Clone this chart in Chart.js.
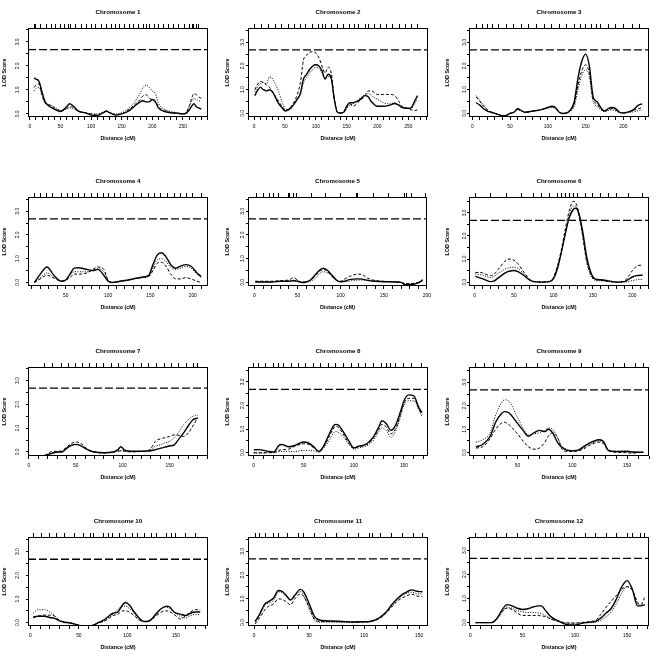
<!DOCTYPE html>
<html><head><meta charset="utf-8">
<script src="https://cdn.jsdelivr.net/npm/chart.js@4"></script>
<style>
html,body{margin:0;padding:0;background:#fff;}
#wrap{position:relative;width:656px;height:656px;overflow:hidden;background:#fff;}
#wrap canvas{position:absolute;}
</style></head><body><div id="wrap"></div>
<script>
// ---------------- data ----------------
const THRESHOLD = 2.68;
const titles = ['Chromosome 1','Chromosome 2','Chromosome 3','Chromosome 4','Chromosome 5','Chromosome 6',
                'Chromosome 7','Chromosome 8','Chromosome 9','Chromosome 10','Chromosome 11','Chromosome 12'];
const xRangeMin = [-3,-10,-4.4,5.5,-7.5,-7,-1,-5.7,5.7,-2.4,-5.5,-1.3];
const xRangeMax = [291,282,234,218,200,221,191,174,170,183,158,171];
const yRangeMin = [-0.13,-0.15,-0.15,-0.15,-0.15,-0.17,-0.17,-0.14,-0.14,-0.14,-0.14,-0.14];
const yRangeMax = [3.58,3.6,3.6,3.6,3.6,3.69,3.57,3.63,3.65,3.62,3.6,3.57];
const xTickStep = 10, xLabelStep = 50;
const yTickValues = [0,0.5,1,1.5,2,2.5,3,3.5];

const c1Pos  = [7,10,15,20,25,30,40,50,60,65,70,80,90,100,110,120,125,130,140,150,160,170,180,185,190,195,200,205,210,220,230,240,250,255,260,265,268,272,276,280];
const c1Solid= [1.5,1.45,1.35,0.9,0.5,0.35,0.2,0.1,0.3,0.42,0.35,0.1,0.05,-0.05,-0.07,0.05,0.12,0.05,-0.05,0.0,0.1,0.3,0.5,0.55,0.5,0.5,0.6,0.5,0.25,0.1,0.05,0.03,0.0,0.02,0.15,0.35,0.42,0.3,0.25,0.2];
const c1Dash = [1.1,1.2,1.25,0.8,0.45,0.4,0.25,0.12,0.22,0.3,0.28,0.1,0.05,0.0,-0.05,0.05,0.1,0.05,-0.03,0.0,0.15,0.35,0.6,0.75,0.8,0.65,0.6,0.55,0.3,0.15,0.05,0.03,0.0,0.05,0.3,0.7,0.85,0.8,0.7,0.65];
const c1Dot  = [0.95,1.05,1.1,0.75,0.45,0.4,0.3,0.15,0.2,0.25,0.22,0.12,0.05,0.0,0.0,0.08,0.1,0.05,0.0,0.05,0.2,0.45,0.85,1.1,1.2,1.1,0.95,0.85,0.45,0.2,0.1,0.05,0.0,0.05,0.3,0.55,0.65,0.6,0.55,0.5];
const c1Markers = [8,10,18,27,36,42,50,56,63,67,75,85,93,100,107,117,125,133,140,147,155,162,170,178,185,190,196,203,210,218,226,235,243,252,260,266,268,272,276];

const c2Pos  = [1,5,10,15,20,25,30,35,40,45,50,55,60,65,70,75,80,85,90,95,100,105,110,115,120,125,130,135,140,145,150,155,160,170,180,185,190,200,210,220,228,235,240,250,255,260,265];
const c2Solid= [0.75,0.95,1.1,1.0,0.95,1.0,0.9,0.65,0.4,0.25,0.1,0.15,0.25,0.4,0.6,0.85,1.45,1.65,1.85,2.0,2.05,2.0,1.8,1.45,1.65,1.5,0.6,0.05,0.02,0.05,0.3,0.45,0.45,0.55,0.75,0.7,0.5,0.3,0.3,0.35,0.42,0.35,0.25,0.22,0.25,0.5,0.75];
const c2Dash = [1.0,1.2,1.35,1.3,1.2,1.1,0.9,0.7,0.5,0.3,0.15,0.15,0.3,0.5,0.8,1.3,2.25,2.45,2.58,2.6,2.55,2.35,2.0,1.7,1.95,1.7,0.6,0.05,0.02,0.02,0.25,0.4,0.3,0.5,0.75,0.95,0.95,0.8,0.8,0.8,0.75,0.5,0.3,0.2,0.15,0.12,0.15];
const c2Dot  = [0.9,1.1,1.25,1.3,1.25,1.55,1.45,1.2,0.9,0.5,0.2,0.15,0.2,0.4,0.6,0.8,1.3,1.5,1.7,1.85,1.95,1.9,1.7,1.5,1.55,1.45,0.6,0.05,0.03,0.05,0.2,0.35,0.4,0.6,0.8,0.85,0.75,0.6,0.45,0.4,0.45,0.3,0.25,0.2,0.2,0.4,0.6];
const c2Markers = [1,12,23,34,44,55,65,75,84,95,105,111,115,125,135,145,155,163,170,180,185,195,205,215,225,235,245,255,265];

const c3Pos  = [5,10,15,20,25,30,35,40,45,50,55,60,65,70,80,90,100,105,110,115,120,125,130,135,140,145,150,155,160,165,170,175,180,185,190,195,200,205,210,215,220,225];
const c3Solid= [0.45,0.35,0.2,0.1,0.05,0.0,-0.05,-0.1,-0.08,0.0,0.05,0.2,0.12,0.05,0.1,0.15,0.25,0.3,0.25,0.05,0.0,0.02,0.15,0.5,1.5,2.2,2.5,2.0,0.7,0.5,0.25,0.1,0.2,0.25,0.2,0.05,0.02,0.05,0.1,0.2,0.35,0.4];
const c3Dash = [0.7,0.5,0.3,0.15,0.05,0.0,-0.05,-0.1,-0.08,0.0,0.05,0.18,0.1,0.05,0.1,0.15,0.25,0.28,0.22,0.05,0.0,0.02,0.12,0.4,1.2,1.8,2.05,1.7,0.6,0.4,0.2,0.1,0.15,0.2,0.15,0.05,0.02,0.05,0.1,0.15,0.2,0.25];
const c3Dot  = [0.75,0.55,0.35,0.15,0.05,0.0,-0.05,-0.1,-0.08,0.0,0.05,0.15,0.1,0.05,0.1,0.15,0.22,0.25,0.2,0.05,0.0,0.02,0.1,0.3,1.0,1.6,1.85,1.55,0.5,0.3,0.15,0.08,0.12,0.15,0.1,0.03,0.02,0.03,0.05,0.08,0.12,0.15];
const c3Markers = [5,13,20,27,35,45,55,65,75,85,95,105,115,125,135,143,150,158,165,170,180,190,200,212,222];

const c4Pos  = [13,20,28,35,45,50,55,60,65,75,82,88,95,100,105,110,120,130,140,148,153,158,163,168,175,180,185,192,198,205,210];
const c4Solid= [0.0,0.35,0.65,0.35,0.05,0.1,0.35,0.6,0.62,0.55,0.5,0.55,0.3,0.05,0.0,0.02,0.08,0.15,0.22,0.3,0.75,1.15,1.25,1.1,0.7,0.6,0.68,0.75,0.68,0.4,0.25];
const c4Dash = [0.0,0.15,0.3,0.2,0.05,0.1,0.2,0.35,0.35,0.4,0.55,0.65,0.55,0.1,0.0,0.02,0.08,0.15,0.22,0.25,0.5,0.8,0.85,0.7,0.3,0.15,0.15,0.2,0.15,0.05,0.0];
const c4Dot  = [0.0,0.2,0.4,0.25,0.05,0.1,0.3,0.45,0.45,0.45,0.5,0.58,0.45,0.1,0.0,0.02,0.08,0.15,0.2,0.25,0.6,0.95,1.0,0.9,0.6,0.55,0.6,0.68,0.6,0.35,0.2];
const c4Markers = [13,20,27,35,45,52,58,65,72,80,88,95,100,108,115,122,130,140,148,155,162,170,178,185,193,200,210];

const c5Pos  = [1,10,20,30,40,45,50,55,60,65,70,75,80,85,90,95,100,105,110,120,125,130,140,150,160,170,175,180,190,195];
const c5Solid= [0.02,0.02,0.02,0.05,0.05,0.08,0.05,0.0,0.02,0.1,0.3,0.5,0.6,0.5,0.3,0.1,0.03,0.05,0.12,0.15,0.14,0.1,0.05,0.03,0.03,0.0,-0.1,-0.1,-0.02,0.1];
const c5Dash = [0.05,0.05,0.05,0.08,0.1,0.2,0.1,0.0,0.03,0.1,0.25,0.45,0.55,0.45,0.25,0.1,0.05,0.15,0.25,0.35,0.33,0.2,0.08,0.05,0.03,0.0,-0.05,-0.05,0.0,0.12];
const c5Dot  = [0.03,0.03,0.03,0.04,0.05,0.05,0.05,0.02,0.02,0.05,0.15,0.35,0.45,0.4,0.25,0.1,0.03,0.04,0.05,0.1,0.1,0.08,0.05,0.03,0.02,0.0,-0.05,-0.05,0.0,0.05];
const c5Markers = [2,10,17,22,28,39,41,45,49,66,82,100,118,120,138,156,174,176,182,198];

const c6Pos  = [1,10,20,25,30,40,45,50,55,60,70,75,85,95,100,105,110,115,120,125,128,132,137,142,147,152,160,170,180,190,195,200,205,213];
const c6Solid= [0.25,0.15,0.02,0.05,0.18,0.42,0.48,0.5,0.45,0.35,0.08,0.02,0.0,0.02,0.15,0.6,1.3,2.1,2.8,3.15,3.2,3.0,2.2,1.1,0.45,0.15,0.1,0.05,0.0,0.02,0.12,0.22,0.28,0.3];
const c6Dash = [0.42,0.4,0.28,0.35,0.55,0.95,1.0,0.95,0.8,0.55,0.12,0.03,0.0,0.03,0.2,0.7,1.4,2.3,3.1,3.5,3.45,3.0,2.0,0.9,0.35,0.12,0.08,0.03,0.0,0.05,0.25,0.5,0.68,0.75];
const c6Dot  = [0.35,0.3,0.2,0.25,0.38,0.58,0.63,0.65,0.6,0.45,0.1,0.02,0.0,0.02,0.15,0.55,1.25,2.1,2.9,3.3,3.3,2.9,2.0,0.9,0.3,0.08,0.05,0.02,-0.02,0.0,0.03,0.06,0.1,0.12];
const c6Markers = [1,20,40,60,75,85,95,105,110,115,120,125,130,140,150,160,170,180,195,213];

const c7Pos  = [17,25,30,35,40,45,50,55,60,65,70,80,90,95,98,102,110,120,125,130,135,140,145,150,155,160,165,170,175,180];
const c7Solid= [-0.15,-0.05,0.0,0.0,0.15,0.28,0.32,0.27,0.15,0.05,0.0,-0.03,0.0,0.1,0.22,0.08,0.03,0.03,0.04,0.05,0.1,0.15,0.2,0.25,0.3,0.55,0.8,1.1,1.35,1.42];
const c7Dash = [-0.15,0.02,0.03,0.05,0.2,0.35,0.42,0.37,0.2,0.05,0.0,-0.05,0.0,0.03,0.05,0.03,0.0,0.02,0.03,0.15,0.45,0.55,0.6,0.65,0.72,0.7,0.65,0.8,1.1,1.45];
const c7Dot  = [-0.15,-0.05,-0.02,0.0,0.12,0.25,0.3,0.28,0.15,0.05,0.0,-0.05,0.0,0.03,0.05,0.04,0.02,0.03,0.04,0.1,0.25,0.3,0.38,0.45,0.6,0.85,1.15,1.35,1.5,1.55];
const c7Markers = [17,25,35,42,50,57,65,72,80,88,96,105,112,120,128,136,145,152,160,168,176,180];

const c8Pos  = [0,5,10,15,20,25,28,35,40,50,55,60,65,70,75,80,82,85,90,95,100,105,110,115,120,125,128,132,137,142,147,150,155,160,165,168];
const c8Solid= [0.12,0.13,0.1,0.05,0.03,0.3,0.35,0.25,0.3,0.45,0.4,0.25,0.05,0.3,0.75,1.15,1.2,1.15,0.85,0.5,0.2,0.28,0.32,0.45,0.7,1.1,1.35,1.25,0.95,1.2,1.8,2.2,2.45,2.4,1.9,1.7];
const c8Dash = [0.0,0.0,0.0,0.0,0.0,0.1,0.12,0.15,0.25,0.38,0.35,0.2,0.08,0.25,0.65,1.05,1.12,1.05,0.75,0.4,0.2,0.25,0.3,0.4,0.65,1.0,1.2,1.1,0.8,1.05,1.7,2.1,2.3,2.3,1.85,1.6];
const c8Dot  = [-0.02,-0.02,-0.02,0.0,0.0,0.05,0.05,0.05,0.05,0.1,0.1,0.08,0.02,0.2,0.5,0.85,0.9,0.85,0.65,0.35,0.15,0.2,0.25,0.35,0.55,0.9,1.05,0.95,0.65,0.95,1.6,2.0,2.2,2.2,1.8,1.55];
const c8Markers = [0,5,12,20,25,30,38,45,52,60,67,75,82,90,98,105,112,120,128,133,137,142,150,158,168];

const c9Pos  = [12,18,25,30,35,38,42,50,55,60,65,70,75,78,82,87,90,95,100,105,110,115,120,124,128,133,140,150,155,160,165];
const c9Solid= [0.25,0.35,0.7,1.3,1.65,1.75,1.7,1.25,0.95,0.7,0.85,0.95,0.9,1.0,0.85,0.4,0.25,0.1,0.08,0.1,0.25,0.4,0.5,0.55,0.5,0.1,0.05,0.05,0.03,0.02,0.02];
const c9Dash = [0.2,0.25,0.6,1.0,1.25,1.3,1.2,0.8,0.5,0.25,0.15,0.2,0.45,0.7,0.85,0.6,0.2,0.05,0.05,0.08,0.15,0.3,0.4,0.45,0.4,0.1,0.02,0.0,-0.02,0.0,0.02];
const c9Dot  = [0.45,0.55,0.85,1.6,2.1,2.25,2.2,1.5,1.05,0.75,0.8,0.85,0.95,1.05,1.0,0.6,0.3,0.15,0.1,0.12,0.2,0.35,0.45,0.5,0.45,0.05,0.05,0.08,0.05,0.03,0.02];
const c9Markers = [12,20,28,38,48,58,68,78,88,98,108,118,128,138,148,158,165];

const c10Pos  = [3,8,15,20,25,30,35,40,45,50,55,60,65,70,75,80,85,90,95,98,102,107,112,117,120,125,130,135,140,143,148,155,160,165,170,175];
const c10Solid= [0.25,0.27,0.27,0.22,0.18,0.08,0.02,0.0,-0.05,-0.12,-0.14,-0.14,-0.1,0.0,0.1,0.25,0.4,0.45,0.75,0.85,0.75,0.45,0.2,0.05,0.05,0.15,0.4,0.6,0.7,0.68,0.45,0.35,0.3,0.4,0.45,0.45];
const c10Dash = [0.2,0.28,0.32,0.32,0.28,0.1,0.03,0.0,-0.05,-0.1,-0.14,-0.14,-0.1,0.0,0.05,0.15,0.3,0.35,0.5,0.5,0.45,0.3,0.12,0.05,0.05,0.15,0.3,0.45,0.5,0.48,0.35,0.15,0.3,0.45,0.55,0.55];
const c10Dot  = [0.4,0.55,0.55,0.45,0.3,0.1,0.03,0.0,-0.05,-0.1,-0.14,-0.14,-0.1,0.0,0.05,0.2,0.35,0.55,0.7,0.7,0.6,0.4,0.12,0.05,0.05,0.15,0.35,0.6,0.65,0.62,0.45,0.25,0.2,0.3,0.35,0.35];
const c10Markers = [3,12,20,27,35,45,55,62,65,75,80,85,92,98,105,110,118,125,130,140,145,150,160,170];

const c11Pos  = [1,5,10,12,18,22,26,30,33,37,42,45,50,55,60,70,80,90,100,105,110,115,120,125,130,135,140,143,148,153];
const c11Solid= [0.05,0.35,0.8,0.85,1.05,1.35,1.3,1.1,0.95,1.15,1.4,1.3,0.8,0.25,0.1,0.07,0.05,0.03,0.04,0.05,0.12,0.25,0.45,0.75,1.0,1.2,1.32,1.38,1.32,1.3];
const c11Dash = [-0.05,0.2,0.55,0.65,0.8,1.0,0.97,0.85,0.75,1.0,1.2,1.1,0.65,0.15,0.05,0.05,0.04,0.02,0.03,0.05,0.1,0.2,0.4,0.65,0.9,1.05,1.15,1.2,1.12,1.1];
const c11Dot  = [0.02,0.3,0.75,0.8,0.95,1.3,1.25,1.05,0.95,1.1,1.3,1.15,0.6,0.1,0.02,0.02,0.01,0.02,0.03,0.04,0.1,0.22,0.45,0.7,0.95,1.15,1.25,1.28,1.22,1.2];
const c11Markers = [1,5,10,18,22,30,40,45,55,65,75,85,95,105,108,115,125,135,145,153];

const c12Pos  = [5,15,20,25,30,35,40,45,50,55,60,65,68,72,77,85,90,95,100,105,110,115,120,125,130,135,140,145,150,155,160,163,167];
const c12Solid= [0.0,0.0,0.0,0.15,0.5,0.75,0.7,0.6,0.55,0.58,0.65,0.7,0.7,0.5,0.25,0.05,-0.05,-0.1,-0.1,-0.05,0.0,0.02,0.05,0.2,0.4,0.6,1.0,1.5,1.75,1.4,0.7,0.7,0.75];
const c12Dash = [0.0,0.0,0.0,0.15,0.45,0.6,0.55,0.4,0.3,0.3,0.3,0.3,0.28,0.25,0.15,0.05,0.0,-0.02,-0.02,0.0,0.02,0.05,0.1,0.35,0.65,0.9,1.15,1.4,1.5,1.35,0.85,0.75,1.05];
const c12Dot  = [0.0,0.0,0.0,0.12,0.4,0.65,0.6,0.5,0.45,0.42,0.42,0.4,0.38,0.3,0.15,0.05,0.0,-0.02,-0.02,-0.02,0.0,0.0,0.03,0.1,0.25,0.45,0.8,1.25,1.5,1.35,0.8,0.72,0.75];
const c12Markers = [5,15,25,35,45,55,60,65,72,77,80,90,100,110,120,130,140,150,155,163,167];

const positions = [c1Pos,c2Pos,c3Pos,c4Pos,c5Pos,c6Pos,c7Pos,c8Pos,c9Pos,c10Pos,c11Pos,c12Pos];
const solidSeries = [c1Solid,c2Solid,c3Solid,c4Solid,c5Solid,c6Solid,c7Solid,c8Solid,c9Solid,c10Solid,c11Solid,c12Solid];
const dashSeries = [c1Dash,c2Dash,c3Dash,c4Dash,c5Dash,c6Dash,c7Dash,c8Dash,c9Dash,c10Dash,c11Dash,c12Dash];
const dotSeries = [c1Dot,c2Dot,c3Dot,c4Dot,c5Dot,c6Dot,c7Dot,c8Dot,c9Dot,c10Dot,c11Dot,c12Dot];
const markerSets = [c1Markers,c2Markers,c3Markers,c4Markers,c5Markers,c6Markers,c7Markers,c8Markers,c9Markers,c10Markers,c11Markers,c12Markers];

// ---------------- layout ----------------
const FONT = "'Liberation Sans', Arial, Helvetica, sans-serif";
const colLeft = [28, 248, 469];
const rowTop = [28, 197, 367, 537];
const BOX_W = 180, BOX_H = 89;
const LEFT_W = 28, TOP_H = 28, BOTTOM_H = 30;
const yLabelGap = [10, 5, 4];   // distance box -> y tick label centre
const yTitleGap = [23, 20, 21]; // distance box -> y title centre

const framePlugin = {
  id: 'frame',
  afterDatasetsDraw(chart) {
    const {ctx, chartArea: a} = chart;
    ctx.save();
    ctx.strokeStyle = '#000';
    ctx.lineWidth = 1;
    ctx.strokeRect(Math.round(a.left) + 0.5, Math.round(a.top) + 0.5,
                   Math.round(a.right - a.left) - 1, Math.round(a.bottom - a.top) - 1);
    ctx.restore();
  }
};

const wrap = document.getElementById('wrap');

titles.forEach((title, i) => {
  const col = i % 3, row = Math.floor(i / 3);
  const cv = document.createElement('canvas');
  cv.width = LEFT_W + BOX_W + 7;
  cv.height = TOP_H + BOX_H + BOTTOM_H + 2;
  cv.style.left = (colLeft[col] - LEFT_W) + 'px';
  cv.style.top = (rowTop[row] - TOP_H) + 'px';
  wrap.appendChild(cv);

  const pos = positions[i];
  const pts = ys => pos.map((x, k) => ({x: x, y: ys[k]}));
  const xMin = xRangeMin[i], xMax = xRangeMax[i];
  const base = {borderColor: '#000', pointRadius: 0, fill: false, cubicInterpolationMode: 'monotone'};

  const tickFont = {family: FONT, size: 4.9};
  const titleFont = {family: FONT, size: 5.4, weight: 'bold'};
  const widestHalf = 3.4;

  new Chart(cv, {
    type: 'line',
    data: {
      datasets: [
        Object.assign({data: pts(solidSeries[i]), borderWidth: 1.4}, base),
        Object.assign({data: pts(dashSeries[i]), borderWidth: 1, borderDash: [3, 2]}, base),
        Object.assign({data: pts(dotSeries[i]), borderWidth: 1, borderDash: [1, 1.5]}, base),
        Object.assign({data: [{x: xMin, y: THRESHOLD}, {x: xMax, y: THRESHOLD}], borderWidth: 1.3, borderDash: [8, 3]}, base)
      ]
    },
    options: {
      responsive: false,
      animation: false,
      devicePixelRatio: 1,
      events: [],
      layout: {padding: {left: 0, right: 7, top: 0, bottom: 2}, autoPadding: false},
      plugins: {
        legend: {display: false},
        tooltip: {enabled: false},
        title: {
          display: true, text: title, color: '#000', fullSize: false,
          font: {family: FONT, size: 6.2, weight: 'bold', lineHeight: 1},
          padding: {top: 9, bottom: 28 - 6 - 9 - 6.2}
        }
      },
      scales: {
        x: {
          type: 'linear', position: 'bottom', min: xMin, max: xMax,
          afterBuildTicks: s => {
            const t = [];
            for (let v = Math.ceil(xMin / xTickStep) * xTickStep; v <= xMax; v += xTickStep) t.push({value: v});
            s.ticks = t;
          },
          afterFit: s => { s.height = BOTTOM_H; },
          ticks: {
            autoSkip: false, maxRotation: 0, minRotation: 0, padding: 4.0, color: '#000', font: tickFont,
            callback: v => (v % xLabelStep === 0 ? String(v) : '')
          },
          grid: {drawOnChartArea: false, tickLength: 3, color: '#000', tickColor: '#000', lineWidth: 1},
          border: {display: false},
          title: {display: true, text: 'Distance (cM)', color: '#000', font: titleFont, padding: {top: 0, bottom: 4.8}}
        },
        x2: {
          type: 'linear', position: 'top', min: xMin, max: xMax,
          afterBuildTicks: s => { s.ticks = markerSets[i].map(v => ({value: v})); },
          afterFit: s => { s.height = 6; },
          ticks: {display: false, autoSkip: false},
          grid: {drawOnChartArea: false, tickLength: 4, color: '#000', tickColor: '#000', lineWidth: 1},
          border: {display: false}
        },
        y: {
          type: 'linear', position: 'left', min: yRangeMin[i], max: yRangeMax[i],
          afterBuildTicks: s => {
            s.ticks = yTickValues.filter(v => v >= yRangeMin[i] && v <= yRangeMax[i]).map(v => ({value: v}));
          },
          afterFit: s => { s.width = LEFT_W; },
          ticks: {
            autoSkip: false, minRotation: 90, maxRotation: 90, crossAlign: 'center',
            padding: yLabelGap[col] - 2 - widestHalf, color: '#000', font: tickFont,
            callback: v => (Number.isInteger(v) ? v.toFixed(1) : '')
          },
          grid: {drawOnChartArea: false, tickLength: 2, color: '#000', tickColor: '#000', lineWidth: 1},
          border: {display: false},
          title: {display: true, text: 'LOD Score', color: '#000', font: titleFont,
                  padding: {top: LEFT_W - yTitleGap[col] - 3.24, bottom: 0}}
        }
      }
    },
    plugins: [framePlugin]
  });
});
</script>
</body></html>
